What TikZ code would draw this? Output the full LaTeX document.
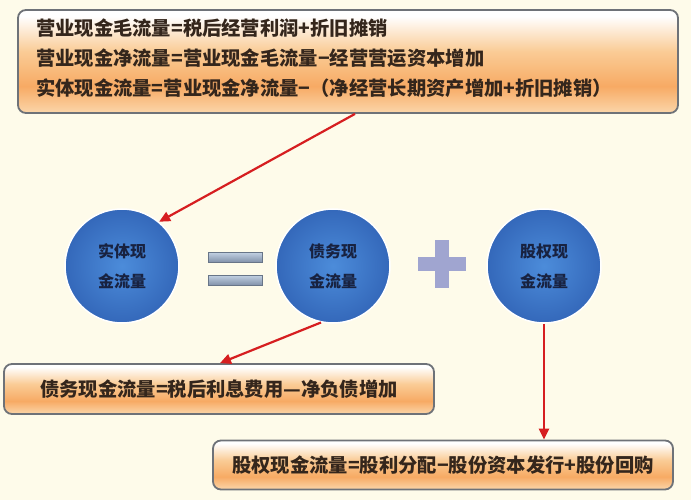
\documentclass[tikz,border=0pt]{standalone}
\usepackage{fontspec}
\newfontfamily\cjk{Noto Sans CJK SC}
\usetikzlibrary{arrows.meta,calc}
\definecolor{bg}{RGB}{254,251,234}
\definecolor{oEdge}{RGB}{251,214,170}
\definecolor{oDeep}{RGB}{247,170,100}
\definecolor{oMid}{RGB}{250,204,150}
\definecolor{boxline}{RGB}{110,114,120}
\definecolor{ballin}{RGB}{76,140,218}
\definecolor{ballout}{RGB}{52,104,186}
\definecolor{arrowred}{RGB}{214,30,32}
\definecolor{boxtext}{RGB}{52,38,28}
\definecolor{balltext}{RGB}{24,34,64}
\definecolor{barA}{RGB}{196,210,228}
\definecolor{barB}{RGB}{130,146,170}
\definecolor{plusB}{RGB}{160,165,208}
\pgfdeclareverticalshading{boxshade}{100bp}{color(0bp)=(oEdge); color(25bp)=(oEdge); color(38bp)=(oDeep); color(55bp)=(oMid); color(72bp)=(white); color(100bp)=(white)}
\tikzset{
  fbox/.style={draw=boxline, line width=1.8pt, rounded corners=8pt, shading=boxshade, inner sep=0pt},
  ftext/.style={font=\cjk\bfseries\fontsize{19.3}{21}\selectfont, text=boxtext, inner sep=0pt},
  ball/.style={circle, minimum size=114pt, inner sep=0pt, draw=white, line width=1.5pt, inner color=ballin, outer color=ballout, font=\cjk\bfseries\fontsize{16}{30}\selectfont, text=balltext, align=center},
  redarrow/.style={draw=arrowred, line width=2.2pt, -{Triangle[length=11pt,width=10pt]}},
  bar/.style={rectangle, minimum width=54pt, minimum height=10pt, inner sep=0pt, top color=barA, bottom color=barB, draw=barB!80!black, line width=0.4pt},
  plusbar/.style={rectangle, inner sep=0pt, fill=plusB}
}
\begin{document}
\begin{tikzpicture}[x=1pt,y=-1pt]
\useasboundingbox (0,0) rectangle (691,500);
\fill[bg] (0,0) rectangle (691,500);
% top box
\node[fbox, minimum width=660pt, minimum height=103pt] (top) at (348,61.5) {};
\node[ftext, anchor=west] (l1) at (36,28) {营业现金毛流量=税后经营利润+折旧摊销};
\node[ftext, anchor=west] (l2) at (36,58) {营业现金净流量=营业现金毛流量−经营营运资本增加};
\node[ftext, anchor=west] (l3) at (36,88) {实体现金流量=营业现金净流量−（净经营长期资产增加+折旧摊销）};
% circles
\node[ball] (c1) at (122,266) {实体现\\金流量};
\node[ball] (c2) at (333,266) {债务现\\金流量};
\node[ball] (c3) at (544,266) {股权现\\金流量};
% equal sign
\node[bar] (eq1) at (235,257) {};
\node[bar] (eq2) at (235,280) {};
% plus sign
\node[plusbar, minimum width=48pt, minimum height=14pt] (ph) at (442,264) {};
\node[plusbar, minimum width=14pt, minimum height=48pt] (pv) at (442,264) {};
% lower boxes
\node[fbox, minimum width=430pt, minimum height=50pt] (b2) at (219,389) {};
\node[ftext] (t2) at (b2.center) {债务现金流量=税后利息费用—净负债增加};
\node[fbox, minimum width=460pt, minimum height=49pt] (b3) at (443,465) {};
\node[ftext] (t3) at (b3.center) {股权现金流量=股利分配−股份资本发行+股份回购};
% arrows
\draw[redarrow] ([xshift=7pt]top.south) -- (c1.50);
\draw[redarrow] (c2.258) -- ([xshift=1pt]b2.north);
\draw[redarrow] (c3.south) -- (c3.south |- b3.north);
\end{tikzpicture}
\end{document}
